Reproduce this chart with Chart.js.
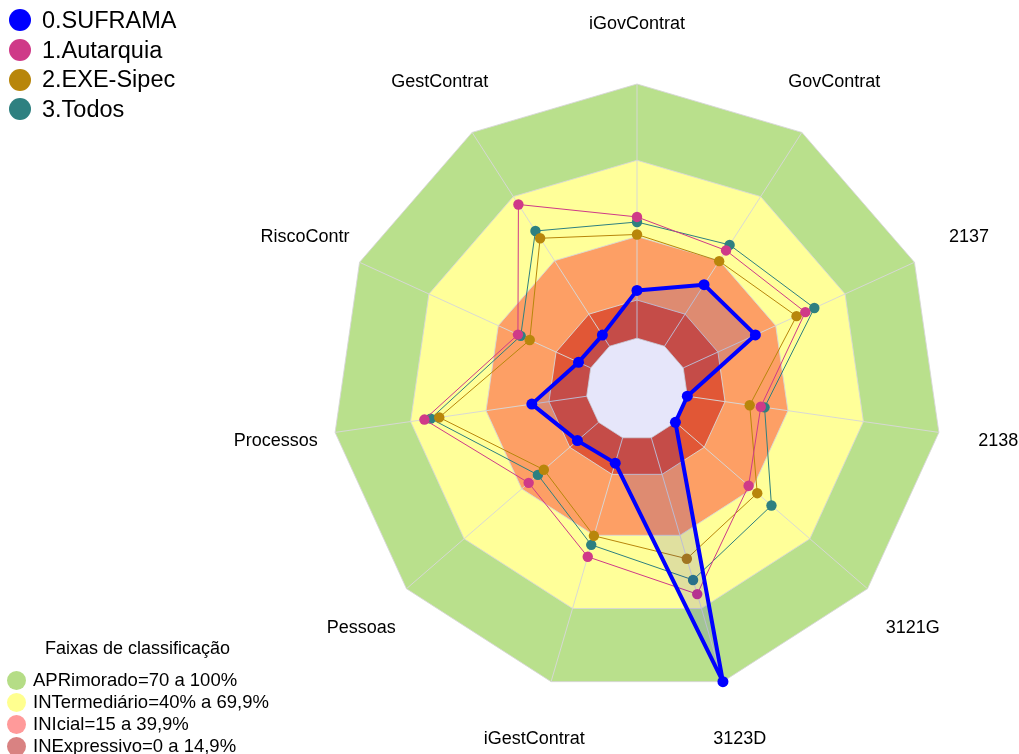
<!DOCTYPE html>
<html><head><meta charset="utf-8">
<script src="https://cdn.jsdelivr.net/npm/chart.js@4.4.1/dist/chart.umd.min.js"></script>
<style>
html,body{margin:0;padding:0;background:#fff;}
#wrap{position:relative;width:1019px;height:754px;overflow:hidden;font-family:"Liberation Sans",Arial,sans-serif;color:#000;}
canvas{position:absolute;left:0;top:0;}
.dot{position:absolute;border-radius:50%;}
.txt{position:absolute;white-space:nowrap;}
</style></head>
<body><div id="wrap"><canvas id="c" width="1019" height="754"></canvas></div>
<script>
const categories = ['iGovContrat','GovContrat','2137','2138','3121G','3123D','iGestContrat','Pessoas','Processos','RiscoContr','GestContrat'];
const seriesNames = ['0.SUFRAMA','1.Autarquia','2.EXE-Sipec','3.Todos'];
const suframa  = [18.8, 28.8, 31.2, 0, 0, 100, 10.4, 11, 21.8, 5.3, 5.2];
const autarquia = [47.7, 44.8, 52.8, 29.2, 38.1, 64.1, 48.8, 36.4, 64.5, 31.5, 66.3];
const exeSipec = [40.8, 39.8, 49.0, 24.8, 42.6, 49.6, 40.2, 28.5, 58.6, 26.4, 50.5];
const todos    = [45.7, 47.4, 56.7, 30.7, 50.0, 58.3, 43.9, 31.6, 62.0, 30.3, 53.9];
const seriesColors = ['#0000ff', '#cf3a88', '#b8860b', '#2e8080'];
const bandLimits = [100, 70, 40, 15, 0];
const bandFills = ['#b9e08c', '#ffff99', '#fd9f65', '#e15736', '#e6e6fa'];
const bandLegend = ['APRimorado=70 a 100%', 'INTermediário=40% a 69,9%', 'INIcial=15 a 39,9%', 'INExpressivo=0 a 14,9%'];
const bandLegendColors = ['#b5dd86', '#ffff8f', '#ff9a9a', '#d98282'];
const legendTitle = 'Faixas de classificação';

const seriesData = [suframa, autarquia, exeSipec, todos];
const datasets = [];
seriesData.forEach((d, i) => {
  const isMain = i === 0;
  datasets.push({
    label: seriesNames[i], data: d, order: i,
    borderColor: seriesColors[i], backgroundColor: isMain ? 'rgba(0,0,205,0.12)' : 'transparent',
    fill: isMain ? {value: 0} : false,
    borderWidth: isMain ? 4 : 1, borderJoinStyle: 'round',
    pointRadius: isMain ? 5.5 : 5.2, pointHoverRadius: 5,
    pointBackgroundColor: seriesColors[i], pointBorderColor: seriesColors[i], pointBorderWidth: 0,
    tension: 0
  });
});
bandLimits.forEach((lim, j) => {
  datasets.push({
    label: 'band' + j, data: categories.map(() => lim), order: 10 + (bandLimits.length - j),
    borderColor: 'rgba(215,215,215,0.9)', borderWidth: 1, backgroundColor: bandFills[j],
    fill: 'start', pointRadius: 0, pointHoverRadius: 0, tension: 0, isBand: true, isHole: lim === 0
  });
});

const gridPlugin = {
  id: 'gridOnBands',
  afterDatasetDraw(chart, args) {
    const ds = chart.data.datasets[args.index];
    if (!ds.isHole) return;
    const s = chart.scales.r, ctx = chart.ctx;
    ctx.save();
    ctx.strokeStyle = 'rgba(215,215,215,0.95)';
    ctx.lineWidth = 1;
    for (let i = 0; i < categories.length; i++) {
      const a = s.getPointPositionForValue(i, 0), b = s.getPointPositionForValue(i, 100);
      ctx.beginPath(); ctx.moveTo(a.x, a.y); ctx.lineTo(b.x, b.y); ctx.stroke();
    }
    ctx.restore();
  }
};
const labelPlugin = {
  id: 'axisLabels',
  afterDraw(chart) {
    const s = chart.scales.r, ctx = chart.ctx;
    ctx.save();
    ctx.font = '18px "Liberation Sans", Arial, sans-serif';
    ctx.fillStyle = '#000';
    ctx.textAlign = 'center'; ctx.textBaseline = 'middle';
    categories.forEach((c, i) => {
      const p = s.getPointPositionForValue(i, 123.6);
      ctx.fillText(c, p.x, p.y);
    });
    ctx.restore();
  }
};

new Chart(document.getElementById('c'), {
  type: 'radar',
  data: {labels: categories, datasets},
  options: {
    responsive: false, animation: false,
    layout: {padding: {left: 332, right: 77, top: 84, bottom: 60}},
    plugins: {legend: {display: false}, tooltip: {enabled: false}},
    scales: {r: {min: -20, max: 100, ticks: {display: false}, grid: {display: false},
      angleLines: {display: false}, pointLabels: {display: false}}}
  },
  plugins: [gridPlugin, labelPlugin]
});

// legends (HTML text)
const wrap = document.getElementById('wrap');
function addItem(color, r, cx, cy, text, tx, fs) {
  const d = document.createElement('div');
  d.className = 'dot';
  d.style.cssText += `left:${cx - r}px;top:${cy - r}px;width:${2*r}px;height:${2*r}px;background:${color};`;
  wrap.appendChild(d);
  const t = document.createElement('div');
  t.className = 'txt';
  t.textContent = text;
  t.style.cssText += `left:${tx}px;top:${cy - fs*0.6}px;font-size:${fs}px;line-height:${fs*1.2}px;`;
  wrap.appendChild(t);
}
const topY = [20, 50, 79.5, 109];
seriesNames.forEach((n, i) => addItem(seriesColors[i], 11, 20, topY[i], n, 42, 23.5));
const title = document.createElement('div');
title.className = 'txt';
title.textContent = legendTitle;
title.style.cssText += 'left:45px;top:637px;font-size:18px;line-height:22px;';
wrap.appendChild(title);
const botY = [680, 702, 724, 746.5];
bandLegend.forEach((n, i) => addItem(bandLegendColors[i], 9.5, 16, botY[i], n, 33, 18.5));
</script>
</body></html>
